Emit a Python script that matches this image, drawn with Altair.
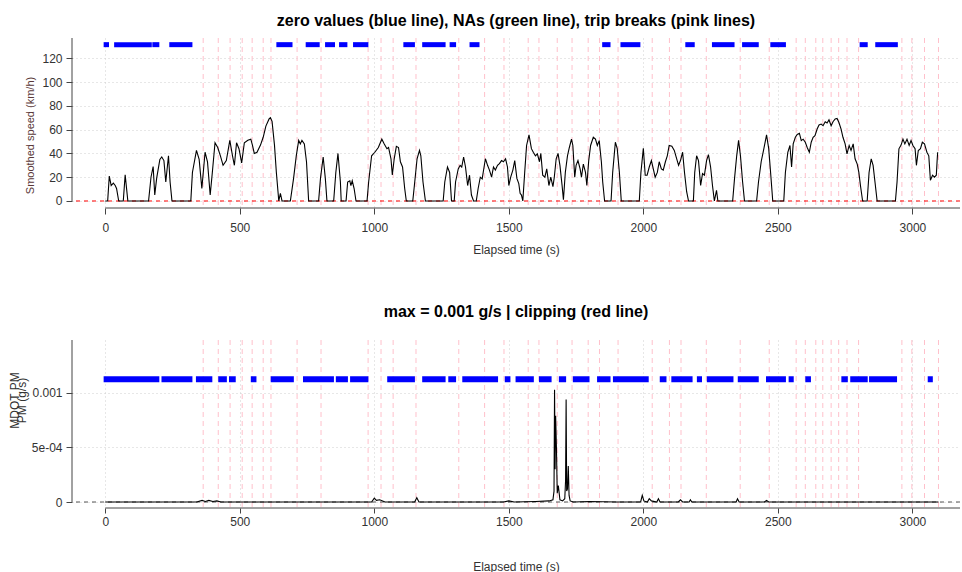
import altair as alt
import pandas as pd

# ---------------- data ----------------
speed_t = [0, 9, 15, 22, 30, 37, 42, 50, 67, 74, 84, 161, 170, 178, 184, 191, 203, 210, 218, 225, 235, 241, 248,
           318, 324, 339, 349, 359, 371, 380, 390, 398, 408, 418, 428, 438, 450, 463, 473, 480, 488, 497, 507, 517,
           530, 541, 547, 554, 564, 577, 587, 597, 609,
           614, 620, 629, 636, 645, 651, 657, 688, 700, 710, 719, 725, 731, 740, 748, 756, 793, 800, 810, 818, 824,
           849, 857, 865, 874, 877, 895, 901, 909, 913, 918, 925, 932, 973, 979, 990, 1002, 1015, 1028, 1037, 1047,
           1053, 1062, 1067, 1074, 1082, 1090, 1097, 1105, 1113, 1119, 1143, 1149, 1159, 1168, 1173, 1181, 1190,
           1256, 1262, 1272, 1280, 1287, 1297, 1302, 1312, 1319, 1325, 1332, 1339, 1347, 1354, 1361, 1369, 1379,
           1386, 1394, 1401, 1408, 1413, 1421, 1428, 1436, 1443, 1450, 1458, 1465, 1473, 1480, 1488, 1495, 1500,
           1507, 1515, 1522, 1530, 1537, 1542, 1547, 1552, 1559, 1566, 1575, 1584, 1591, 1599, 1606, 1614, 1619,
           1626, 1634, 1641, 1649, 1656, 1664, 1669, 1676, 1683, 1690, 1698, 1703, 1710, 1718, 1725, 1733, 1738,
           1745, 1750, 1757, 1765, 1770, 1777, 1785, 1790, 1797, 1804, 1814, 1822, 1829, 1836, 1844, 1849, 1856,
           1880, 1886, 1896, 1903, 1911, 1918, 1985, 1991, 2000, 2007, 2014, 2022, 2030, 2037, 2044, 2052, 2059,
           2067, 2074, 2082, 2089, 2096, 2106, 2115, 2124, 2131, 2138, 2146, 2153, 2161, 2168, 2186, 2191, 2198,
           2205, 2213, 2220, 2227, 2235, 2242, 2250, 2257, 2264, 2272, 2277, 2332, 2339, 2347, 2354, 2361, 2369,
           2376, 2421, 2428, 2438, 2448, 2458, 2466, 2473, 2481,
           2522, 2528, 2537, 2545, 2551, 2557, 2565, 2572, 2580, 2587, 2594, 2602, 2609, 2617, 2624, 2631, 2638,
           2646, 2653, 2661, 2668, 2676, 2683, 2690, 2698, 2705, 2713, 2720, 2727, 2735, 2742, 2750, 2757, 2765,
           2772, 2780, 2787, 2795, 2801, 2807, 2815, 2832, 2839, 2847, 2854, 2861, 2869, 2937, 2943, 2950, 2958,
           2965, 2972, 2980, 2988, 2995, 3002, 3010, 3015, 3022, 3030, 3037, 3045, 3054, 3061, 3067, 3075, 3082,
           3089, 3092, 3094]
speed_v = [0, 0, 21, 13, 15, 13, 10.5, 0, 0, 22, 0, 0, 20, 29, 5, 19, 35, 37, 34, 16, 38, 16, 0,
           0, 24, 42.5, 35, 10.5, 41, 33, 5, 24, 49, 45, 38, 30, 34, 51, 38, 30, 49, 44, 32, 49,
           51, 52, 47, 40, 41, 47, 53.6, 63, 69,
           70, 67, 47, 24, 0, 6.4, 0, 0, 19, 38, 51, 48, 51, 48, 33, 0, 0, 19, 37, 19, 0,
           0, 24, 40, 16, 0, 0, 16, 17, 13, 17, 10.5, 0, 0, 16, 38, 41, 45, 52, 48, 44,
           45, 35.5, 22, 35.5, 46, 45, 33, 28.6, 10.5, 0, 0, 13, 35.5, 42.5, 38, 16, 0,
           0, 16, 28.6, 24, 0, 0, 16, 27, 30, 28.6, 37, 28.6, 13, 21.7, 5, 0, 0,
           10.5, 20, 18.6, 28.6, 35.5, 30, 26, 20, 28.6, 26, 30, 31.4, 34, 33, 35.5, 28.6, 13,
           20, 26, 34, 19, 14.7, 6.4, 5, 0, 24, 46.7, 55.6, 44, 41, 38, 39.7, 33, 40,
           21.7, 20, 27, 13, 20, 12, 20, 35.5, 40, 30, 13, 1, 24, 38, 45, 52, 46.7,
           20, 30, 34, 27, 20, 31, 24, 13, 34, 46.7, 53.6, 52, 46.7, 50.8, 33, 16, 0,
           0, 24, 49.4, 44, 24, 0, 0, 24, 44.4, 21.7, 21.7, 28.6, 34, 27, 20, 24, 33,
           27, 26, 33, 38, 46.7, 46, 42.5, 35.5, 30, 34, 41, 24, 7.8, 0, 0, 24, 38,
           34, 13, 23, 21.7, 34, 39, 28.6, 13, 0, 9, 0, 0, 19, 38, 51, 38, 16,
           0, 0, 16, 33, 44, 55.6, 44, 24, 0,
           0, 24, 41, 46.7, 28.6, 48, 53.6, 56, 57, 50.8, 52, 49.4, 45, 41, 49.4, 53.6, 55,
           60.5, 64, 64.7, 63.3, 66.7, 65.6, 68.3, 63.3, 66.7, 69, 69.4, 66, 60.5, 53.6, 48, 39.7, 46.7,
           42.5, 48, 35.5, 31, 24, 13, 0, 0, 24, 35.5, 30, 16, 0, 0, 16, 43.9, 47,
           52, 48, 52, 46.7, 50.8, 46.7, 43.9, 30, 42.5, 44, 49.4, 48, 41, 38, 17.5, 21.7, 20,
           21.7, 34, 41]

pm_t = [0, 340, 360, 372, 385, 400, 415, 430, 470, 990, 1000, 1008, 1020, 1040, 1150, 1158, 1166, 1300, 1480,
        1500, 1520, 1600, 1650, 1664, 1668, 1670, 1672, 1674, 1677, 1680, 1684, 1690, 1700, 1708, 1711, 1713,
        1715, 1718, 1721, 1724, 1728, 1740, 1800, 1900, 1990, 1996, 2002, 2015, 2022, 2030, 2050, 2056, 2062,
        2100, 2130, 2138, 2146, 2170, 2175, 2180, 2300, 2345, 2350, 2356, 2450, 2458, 2466, 2600, 2800, 3000,
        3097]
pm_v = [0, 0, 1.5e-5, 0.5e-5, 1.5e-5, 0.5e-5, 1e-5, 0, 0, 0, 3.5e-5, 1.5e-5, 2e-5, 0, 0, 4e-5, 0, 0, 0,
        1e-5, 0, 0.5e-5, 1e-5, 2e-5, 1e-4, 1.03e-3, 3e-4, 7.9e-4, 5e-4, 8e-5, 1.5e-4, 2e-5, 1e-5, 3e-5, 2e-4, 9.4e-4,
        1e-4, 1.2e-4, 3.3e-4, 6e-5, 1e-5, 0, 0.5e-5, 0, 0, 6e-5, 1e-5, 0, 3e-5, 1e-5, 0, 3e-5, 0,
        0, 0, 2e-5, 0, 0, 2e-5, 0, 0, 0, 3e-5, 0, 0, 1.5e-5, 0, 0, 0, 0,
        0]

trip_breaks = [364, 420, 464, 509, 546, 587, 616, 713, 802, 977, 1025, 1070, 1155, 1314, 1410, 1482, 1572,
               1612, 1680, 1735, 1795, 1837, 1906, 2033, 2097, 2140, 2234, 2360, 2468, 2568, 2602, 2641, 2667,
               2698, 2726, 2757, 2800, 2961, 2998, 3045, 3097]

speed_zero_start = [-6, 33, 175, 238, 636, 745, 817, 869, 921, 1108, 1178, 1280, 1354,
                    1847, 1915, 2156, 2255, 2367, 2472, 2804, 2862]
speed_zero_end = [14, 173, 201, 324, 696, 797, 854, 900, 978, 1151, 1265, 1304, 1391,
                  1878, 1989, 2191, 2339, 2429, 2530, 2834, 2946]

pm_zero_start = [-6, 209, 337, 420, 460, 541, 615, 735, 857, 910, 1048, 1178, 1275, 1327, 1485, 1525, 1612,
                 1686, 1738, 1828, 1887, 2061, 2104, 2199, 2236, 2351, 2456, 2540, 2602, 2736, 2769, 2839, 3057]
pm_zero_end = [201, 324, 398, 452, 485, 562, 701, 850, 902, 978, 1151, 1265, 1304, 1460, 1506, 1593, 1659,
               1713, 1800, 1878, 2020, 2086, 2183, 2218, 2335, 2429, 2530, 2559, 2623, 2760, 2834, 2943, 3076]

x_ticks = [0, 500, 1000, 1500, 2000, 2500, 3000]
speed_ticks = [0, 20, 40, 60, 80, 100, 120]
pm_ticks = [0, 0.0005, 0.001]
pm_tick_labels = ["0", "5e-04", "0.001"]

SPEED_ZERO_LEVEL = 131.5
PM_ZERO_LEVEL = 0.001126

X_DOMAIN = [-123.6, 3177.0]
SPEED_DOMAIN = [-5.9, 137.1]
PM_DOMAIN = [-0.000055, 0.001486]

TITLE_TOP = "zero values (blue line), NAs (green line), trip breaks (pink lines)"
TITLE_BOTTOM = "max = 0.001 g/s | clipping (red line)"

FONT = "Liberation Sans"
W = 888

# ---------------- helpers ----------------
def x_axis(label_pad, title_pad, tick):
    return alt.Axis(values=x_ticks, format="d", grid=True, gridDash=[1, 3], gridColor="#cfcfcf", domain=False,
                    tickSize=tick, tickColor="#444", labelFontSize=12, labelColor="#333", labelFont=FONT,
                    labelPadding=label_pad, labelFlush=False, title="Elapsed time (s)", titleFontSize=12,
                    titleFont=FONT, titleFontWeight="normal", titleColor="#333", titlePadding=title_pad)


def y_axis_speed():
    return alt.Axis(values=speed_ticks, grid=True, gridDash=[1, 3], gridColor="#cfcfcf", domain=False,
                    tickSize=6, tickColor="#444", labelFontSize=12, labelColor="#333", labelFont=FONT,
                    labelPadding=4, title="Smoothed speed (km/h)", titleFontSize=11, titleFont=FONT,
                    titleFontWeight="normal", titleColor="#5a3838", titleX=-37, titleY=97)


def y_axis_pm():
    expr = " : ".join(
        [f"datum.value < {v + 0.0001} ? '{l}'" for v, l in zip(pm_ticks[:-1], pm_tick_labels[:-1])]
    ) + f" : '{pm_tick_labels[-1]}'"
    return alt.Axis(values=pm_ticks, grid=True, gridDash=[1, 3], gridColor="#cfcfcf", domain=False,
                    tickSize=6, tickColor="#444", labelFontSize=12, labelColor="#333", labelFont=FONT,
                    labelPadding=4, labelExpr=expr, title=["MDOT PM", "PM (g/s)"], titleFontSize=12,
                    titleFont=FONT, titleFontWeight="normal", titleColor="#333", titleLineHeight=7,
                    titleX=-51, titleY=60)


def panel(t, v, zs, ze, level, ydom, yaxis, xaxis, height, title, title_offset, zero_color, zero_dash,
          blue_width):
    xs = alt.Scale(domain=X_DOMAIN, nice=False, zero=False)
    ys = alt.Scale(domain=ydom, nice=False, zero=False)
    line_df = pd.DataFrame({"x": t, "y": v})
    brk_df = pd.DataFrame({"x": trip_breaks})
    zero_df = pd.DataFrame({"x": zs, "x2": ze, "y": [level] * len(zs)})
    h0_df = pd.DataFrame({"y": [0]})
    xline_df = pd.DataFrame({"x": [0], "x2": [X_DOMAIN[1]], "y": [ydom[0]]})
    yline_df = pd.DataFrame({"x": [X_DOMAIN[0]], "y": [0], "y2": [ydom[1]]})

    X = lambda f: alt.X(f, type="quantitative", scale=xs, axis=xaxis)
    Y = lambda f: alt.Y(f, type="quantitative", scale=ys, axis=yaxis)

    breaks = alt.Chart(brk_df).mark_rule(color="#ffc0cb", strokeDash=[5, 4], strokeWidth=1).encode(x=X("x"))
    hzero = alt.Chart(h0_df).mark_rule(color=zero_color, strokeDash=zero_dash, strokeWidth=1).encode(y=Y("y"))
    line = alt.Chart(line_df).mark_line(color="black", strokeWidth=1.1).encode(x=X("x"), y=Y("y"))
    zeros = alt.Chart(zero_df).mark_rule(color="#0000ff", strokeWidth=blue_width, strokeCap="butt").encode(
        x=X("x"), x2="x2", y=Y("y"))
    xline = alt.Chart(xline_df).mark_rule(color="#444", strokeWidth=1).encode(x=X("x"), x2="x2", y=Y("y"))
    yline = alt.Chart(yline_df).mark_rule(color="#444", strokeWidth=1).encode(x=X("x"), y=Y("y"), y2="y2")

    return alt.layer(breaks, hzero, line, zeros, xline, yline).properties(
        width=W, height=height,
        title=alt.TitleParams(text=title, fontSize=16, fontWeight="bold", font=FONT, anchor="middle",
                              color="black", offset=title_offset),
    )


top = panel(speed_t, speed_v, speed_zero_start, speed_zero_end, SPEED_ZERO_LEVEL, SPEED_DOMAIN,
            y_axis_speed(), x_axis(8, 11, 6), 170, TITLE_TOP, 9, "#ff0000", [4, 4], 5)
bottom = panel(pm_t, pm_v, pm_zero_start, pm_zero_end, PM_ZERO_LEVEL, PM_DOMAIN,
               y_axis_pm(), x_axis(3, 34, 5), 168, TITLE_BOTTOM, 20, "#555555", [4, 4], 6)

chart = alt.vconcat(top, bottom, spacing=48).properties(
    padding={"left": 8, "top": 12, "right": 0, "bottom": 0},
    background="white",
).configure_view(stroke=None)

chart.save("out.html", embed_options={"renderer": "svg", "actions": False})
